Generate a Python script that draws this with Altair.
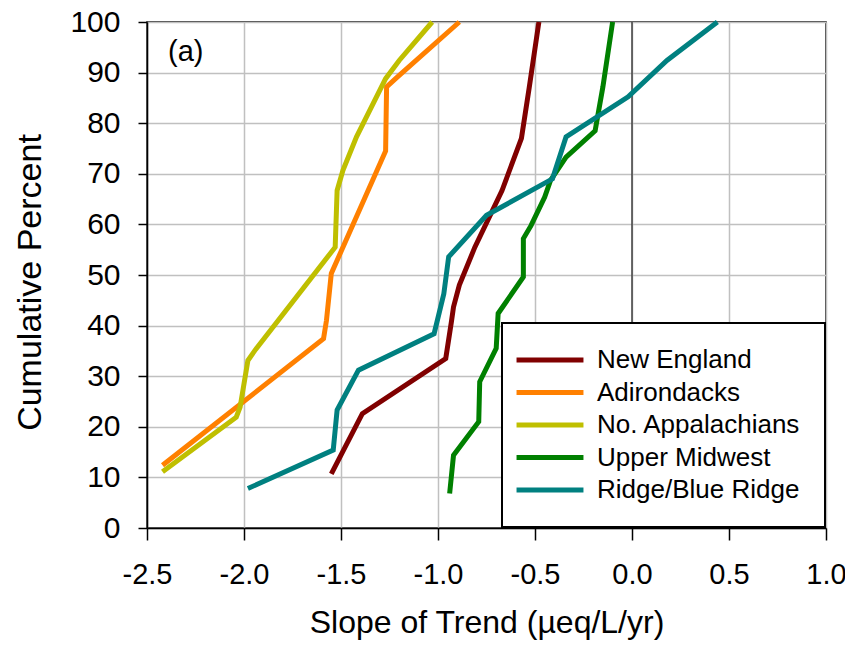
import altair as alt
import pandas as pd

regions = ["New England", "Adirondacks", "No. Appalachians", "Upper Midwest", "Ridge/Blue Ridge"]
colors = ["#800000", "#FF8000", "#BFBF00", "#008000", "#008080"]

ne_x = [-1.55, -1.39, -0.96, -0.93, -0.92, -0.89, -0.81, -0.67, -0.57, -0.53, -0.48]
ne_y = [10.7, 22.6, 33.5, 41.0, 43.7, 48.0, 55.5, 66.7, 77.0, 87.0, 100.0]

ad_x = [-2.42, -1.59, -1.575, -1.55, -1.27, -1.265, -1.21, -0.89]
ad_y = [12.4, 37.4, 41.0, 50.3, 74.5, 87.2, 89.1, 100.0]

na_x = [-2.42, -2.04, -2.02, -1.98, -1.94, -1.53, -1.52, -1.49, -1.42, -1.27, -1.20, -1.03]
na_y = [11.1, 21.9, 23.9, 33.1, 35.3, 55.5, 66.7, 70.7, 77.3, 88.8, 92.4, 100.0]

um_x = [-0.94, -0.92, -0.79, -0.785, -0.70, -0.69, -0.56, -0.56, -0.52, -0.45, -0.42, -0.34, -0.19, -0.15, -0.10]
um_y = [6.8, 14.4, 21.0, 28.9, 35.5, 42.4, 49.6, 57.2, 59.8, 65.4, 68.7, 73.3, 78.5, 87.2, 100.0]

rb_x = [-1.98, -1.54, -1.52, -1.41, -1.02, -0.97, -0.945, -0.75, -0.41, -0.34, -0.02, 0.18, 0.44]
rb_y = [7.8, 15.4, 23.3, 31.2, 38.4, 46.3, 53.6, 61.8, 69.0, 77.3, 85.2, 92.4, 100.0]

x_ticks = [-2.5, -2.0, -1.5, -1.0, -0.5, 0.0, 0.5, 1.0]
y_ticks = [0, 10, 20, 30, 40, 50, 60, 70, 80, 90, 100]
panel_label = "(a)"
panel_pos = (-2.30, 94.0)

series = [(regions[0], ne_x, ne_y), (regions[1], ad_x, ad_y), (regions[2], na_x, na_y),
          (regions[3], um_x, um_y), (regions[4], rb_x, rb_y)]
rows = []
for name, xs, ys in series:
    for i, (xv, yv) in enumerate(zip(xs, ys)):
        rows.append({"region": name, "slope": xv, "pct": yv, "idx": i})
df = pd.DataFrame(rows)

FONT = "Liberation Sans"

xscale = alt.Scale(domain=[-2.5, 1.0], nice=False, zero=False)
yscale = alt.Scale(domain=[0, 100], nice=False)

lines = alt.Chart(df).mark_line(strokeWidth=5, strokeJoin="miter").encode(
    x=alt.X("slope:Q", scale=xscale,
            axis=alt.Axis(values=x_ticks, title="Slope of Trend (µeq/L/yr)",
                          labelExpr="datum.value < 0 ? '-' + format(-datum.value, '.1f') : format(datum.value, '.1f')",
                          labelFlush=False,
                          titleFontSize=32, titleY=104, titleBaseline="alphabetic",
                          labelFontSize=29, labelPadding=20, tickSize=12)),
    y=alt.Y("pct:Q", scale=yscale,
            axis=alt.Axis(values=y_ticks, title="Cumulative Percent",
                          titleFontSize=34, titleX=-107, titleY=260, titleBaseline="alphabetic",
                          titleAngle=270, titleAlign="center",
                          labelFontSize=30, labelPadding=18, tickSize=9)),
    color=alt.Color("region:N", scale=alt.Scale(domain=regions, range=colors),
                    legend=alt.Legend(title=None, orient="none", legendX=355, legendY=301,
                                      symbolType="M-4,0H4", symbolSize=280, symbolStrokeWidth=5,
                                      symbolOffset=11, labelOffset=34, labelFontSize=26,
                                      labelLimit=400,
                                      labelFont=FONT, rowPadding=6.5, padding=24,
                                      strokeColor="black", fillColor="white")),
    order=alt.Order("idx:Q"),
    detail="region:N",
)

zero_df = pd.DataFrame({"slope": [0.0, 0.0], "pct": [0, 100]})
zero_line = alt.Chart(zero_df).mark_line(color="#404040", strokeWidth=1.5).encode(
    x=alt.X("slope:Q", scale=xscale), y=alt.Y("pct:Q", scale=yscale)
)

lab_df = pd.DataFrame({"slope": [panel_pos[0]], "pct": [panel_pos[1]], "t": [panel_label]})
label = alt.Chart(lab_df).mark_text(fontSize=29, font=FONT, align="center", baseline="middle", color="black").encode(
    x=alt.X("slope:Q", scale=xscale), y=alt.Y("pct:Q", scale=yscale), text="t:N"
)

chart = alt.layer(zero_line, lines, label).properties(
    width=679, height=506, autosize="none",
    padding={"left": 139, "top": 14, "right": 19, "bottom": 113},
    background="white",
).configure_view(stroke="black", strokeWidth=1.5).configure_axis(
    labelFont=FONT, titleFont=FONT, labelColor="black", titleColor="black",
    titleFontWeight="normal", gridColor="#C0C0C0", gridWidth=1.5,
    domainColor="black", domainWidth=1.5, tickColor="black", tickWidth=1.5,
).configure_legend(strokeWidth=2, labelColor="black")

chart.save("out.html", embed_options={"renderer": "svg", "actions": False})
